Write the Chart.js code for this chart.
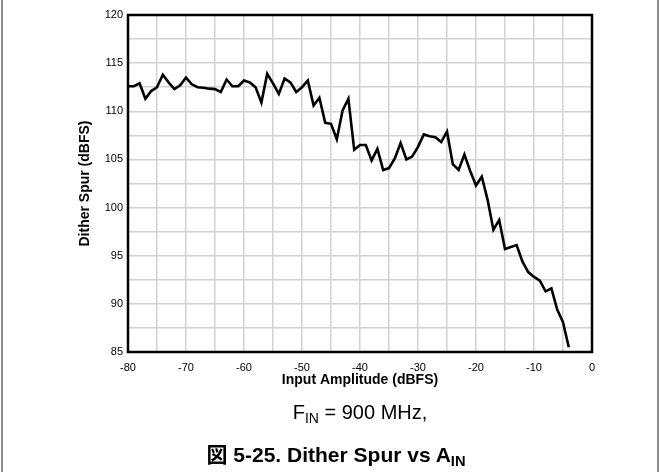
<!DOCTYPE html>
<html>
<head>
<meta charset="utf-8">
<script src="https://cdn.jsdelivr.net/npm/chart.js@4"></script>
<style>
  html, body { margin: 0; padding: 0; background: #fff; }
  #wrap { position: relative; width: 660px; height: 472px; overflow: hidden; }
  #frameL, #frameR { position: absolute; top: 0; width: 2px; height: 472px; background: #8c8c8c; }
  #frameL { left: 1px; }
  #frameR { left: 657px; }
  canvas { position: absolute; left: 0; top: 0; }
  .cap { position: absolute; line-height: 1; white-space: nowrap; transform: translateX(-50%); color: #000;
         font-family: "Liberation Sans", Arial, "Noto Sans CJK JP", sans-serif; }
  .cap .sub { font-size: 0.7em; position: relative; top: 0.3em; }
</style>
</head>
<body>
<div id="wrap">
  <canvas id="c" width="660" height="472"></canvas>
  <div id="frameL"></div>
  <div id="frameR"></div>
  <div class="cap" style="left:360px; top:402px; font-size:20px;">F<span class="sub">IN</span> = 900 MHz,</div>
  <div class="cap" style="left:336px; top:444px; font-size:21px; font-weight:bold;">図 5-25. Dither Spur vs A<span class="sub">IN</span></div>
</div>
<script>
// Input amplitude (dBFS)
const inputAmplitude = [-80,-79,-78,-77,-76,-75,-74,-73,-72,-71,-70,-69,-68,-67,-66,-65,-64,-63,-62,-61,
  -60,-59,-58,-57,-56,-55,-54,-53,-52,-51,-50,-49,-48,-47,-46,-45,-44,-43,-42,-41,
  -40,-39,-38,-37,-36,-35,-34,-33,-32,-31,-30,-29,-28,-27,-26,-25,-24,-23,-22,-21,
  -20,-19,-18,-17,-16,-15,-14,-13,-12,-11,-10,-9,-8,-7,-6,-5,-4];
// Dither spur (dBFS)
const ditherSpur = [112.6,112.6,112.9,111.3,112.1,112.5,113.8,113.0,112.3,112.7,113.5,112.8,112.5,112.45,112.35,112.3,112.0,113.3,112.6,112.6,
  113.2,113.0,112.5,110.9,113.9,112.9,111.8,113.4,113.0,112.0,112.5,113.2,110.6,111.4,108.8,108.7,107.1,110.1,111.3,106.0,
  106.5,106.5,104.9,106.1,103.9,104.1,105.1,106.7,105.0,105.3,106.3,107.6,107.4,107.3,106.8,107.9,104.5,103.9,105.5,103.8,
  102.3,103.2,100.8,97.7,98.7,95.7,95.9,96.1,94.4,93.3,92.8,92.4,91.3,91.6,89.4,88.1,85.5];
const xTickLabels = [-80,-70,-60,-50,-40,-30,-20,-10,0];
const yTickLabels = [85,90,95,100,105,110,115,120];

const points = inputAmplitude.map((x, i) => ({ x: x, y: ditherSpur[i] }));

const frameBox = {
  id: 'frameBox',
  afterDatasetsDraw(chart) {
    const a = chart.chartArea, ctx = chart.ctx;
    ctx.save();
    ctx.strokeStyle = '#000';
    ctx.lineWidth = 2.5;
    ctx.strokeRect(a.left, a.top, a.right - a.left, a.bottom - a.top);
    ctx.restore();
  }
};

const font = "'Liberation Sans', Arial, sans-serif";
new Chart(document.getElementById('c'), {
  type: 'line',
  data: {
    datasets: [{
      data: points,
      borderColor: '#000',
      borderWidth: 2.6,
      pointRadius: 0,
      tension: 0,
      fill: false
    }]
  },
  options: {
    responsive: false,
    animation: false,
    devicePixelRatio: 1,
    layout: { padding: { left: 77, right: 68, top: 15, bottom: 472 - 352 - 37 } },
    plugins: { legend: { display: false }, tooltip: { enabled: false } },
    scales: {
      x: {
        type: 'linear', min: -80, max: 0,
        afterFit(s) { s.height = 37; },
        border: { display: false },
        grid: { color: '#d2d2d2', lineWidth: 1.5, drawTicks: false },
        ticks: {
          stepSize: 5, padding: 9, maxRotation: 0, autoSkip: false,
          color: '#000', font: { family: font, size: 11 },
          callback: v => xTickLabels.includes(v) ? String(v) : ''
        },
        title: { display: true, text: 'Input Amplitude (dBFS)', color: '#000',
                 padding: { top: 0, bottom: 0 }, font: { family: font, size: 14, weight: 'bold' } }
      },
      y: {
        type: 'linear', min: 85, max: 120,
        afterFit(s) { s.width = 51; },
        border: { display: false },
        grid: { color: '#d2d2d2', lineWidth: 1.5, drawTicks: false },
        ticks: {
          stepSize: 2.5, padding: 5, autoSkip: false,
          color: '#000', font: { family: font, size: 11 },
          callback: v => yTickLabels.includes(v) ? String(v) : ''
        },
        title: { display: true, text: 'Dither Spur (dBFS)', color: '#000',
                 padding: { top: 0, bottom: 0 }, font: { family: font, size: 14, weight: 'bold' } }
      }
    }
  },
  plugins: [frameBox]
});
</script>
</body>
</html>
